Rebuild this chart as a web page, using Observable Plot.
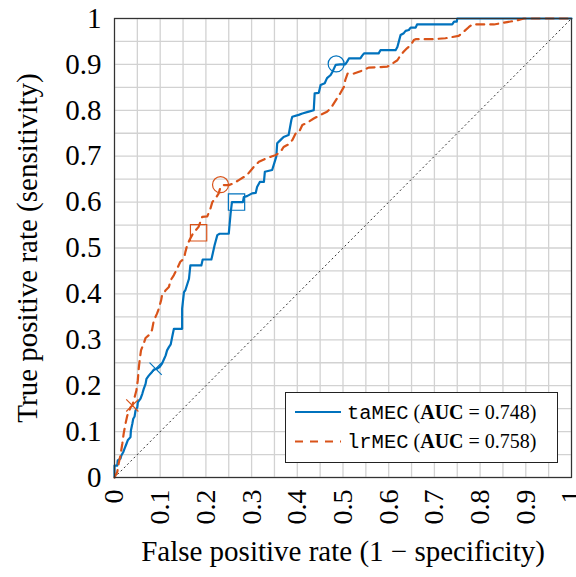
<!DOCTYPE html>
<html>
<head>
<meta charset="utf-8">
<script src="https://cdn.jsdelivr.net/npm/d3@7"></script>
<script src="https://cdn.jsdelivr.net/npm/@observablehq/plot@0.6"></script>
<style>
  html, body { margin: 0; padding: 0; background: #fff; }
</style>
</head>
<body>
<div id="chart"></div>
<script>
// ---- data ----
const tickValues = [0, 0.1, 0.2, 0.3, 0.4, 0.5, 0.6, 0.7, 0.8, 0.9, 1];
const gridValues = [0, 0.05, 0.1, 0.15, 0.2, 0.25, 0.3, 0.35, 0.4, 0.45, 0.5, 0.55, 0.6, 0.65, 0.7, 0.75, 0.8, 0.85, 0.9, 0.95, 1];

const taFpr = [0,0,0.006,0.007,0.013,0.015,0.019,0.022,0.026,0.029,0.035,0.036,0.039,0.041,0.044,0.046,0.050,0.051,0.057,0.061,0.064,0.068,0.070,0.075,0.082,0.086,0.093,0.099,0.104,0.108,0.112,0.115,0.119,0.123,0.126,0.128,0.130,0.148,0.148,0.152,0.155,0.163,0.166,0.190,0.193,0.212,0.215,0.219,0.225,0.230,0.250,0.254,0.257,0.281,0.283,0.290,0.301,0.309,0.312,0.318,0.327,0.329,0.345,0.354,0.356,0.363,0.370,0.381,0.387,0.389,0.403,0.411,0.425,0.436,0.438,0.447,0.451,0.460,0.465,0.473,0.477,0.484,0.494,0.505,0.509,0.513,0.538,0.542,0.546,0.578,0.582,0.615,0.619,0.622,0.626,0.633,0.637,0.644,0.648,0.659,0.662,0.739,0.743,0.749,0.750,1];
const taTpr = [0,0.026,0.026,0.037,0.041,0.048,0.055,0.063,0.073,0.081,0.088,0.103,0.117,0.128,0.133,0.146,0.153,0.164,0.172,0.183,0.193,0.204,0.215,0.222,0.230,0.235,0.237,0.241,0.248,0.257,0.266,0.277,0.284,0.290,0.305,0.315,0.324,0.324,0.368,0.404,0.408,0.433,0.462,0.462,0.475,0.475,0.488,0.506,0.528,0.531,0.531,0.575,0.600,0.600,0.611,0.613,0.619,0.620,0.633,0.644,0.644,0.666,0.670,0.699,0.728,0.735,0.742,0.746,0.779,0.786,0.790,0.793,0.797,0.800,0.837,0.838,0.855,0.859,0.870,0.877,0.884,0.899,0.900,0.900,0.906,0.913,0.913,0.919,0.924,0.924,0.931,0.931,0.938,0.949,0.964,0.968,0.973,0.975,0.980,0.980,0.987,0.987,0.993,0.993,1,1];

const lrFpr = [0,0.006,0.009,0.013,0.017,0.020,0.024,0.028,0.035,0.039,0.044,0.048,0.051,0.053,0.055,0.058,0.064,0.068,0.075,0.082,0.086,0.093,0.097,0.102,0.104,0.112,0.119,0.123,0.130,0.137,0.144,0.152,0.155,0.159,0.165,0.172,0.184,0.188,0.192,0.203,0.210,0.214,0.221,0.228,0.232,0.239,0.250,0.261,0.272,0.290,0.305,0.316,0.327,0.345,0.352,0.363,0.370,0.381,0.389,0.396,0.403,0.411,0.418,0.436,0.451,0.465,0.473,0.480,0.487,0.494,0.502,0.505,0.510,0.524,0.546,0.556,0.597,0.608,0.619,0.626,0.633,0.640,0.648,0.655,0.659,0.699,0.724,0.753,0.764,0.775,0.783,0.830,0.859,0.881,0.896,1];
const lrTpr = [0,0.012,0.030,0.048,0.073,0.095,0.117,0.135,0.153,0.157,0.175,0.190,0.212,0.237,0.255,0.277,0.292,0.304,0.310,0.321,0.342,0.357,0.368,0.386,0.397,0.408,0.415,0.430,0.441,0.455,0.470,0.477,0.491,0.506,0.519,0.532,0.546,0.557,0.568,0.569,0.586,0.600,0.608,0.619,0.633,0.637,0.637,0.641,0.648,0.659,0.677,0.688,0.693,0.700,0.702,0.709,0.720,0.726,0.735,0.749,0.751,0.768,0.771,0.782,0.790,0.797,0.804,0.815,0.826,0.837,0.851,0.866,0.880,0.880,0.888,0.893,0.895,0.902,0.909,0.920,0.928,0.935,0.942,0.953,0.955,0.955,0.957,0.962,0.971,0.981,0.987,0.987,0.992,0.996,1,1];

const chanceX = [0, 1];
const chanceY = [0, 1];

// operating-point markers
const markerModel  = ["taMEC", "taMEC", "taMEC", "lrMEC", "lrMEC", "lrMEC"];
const markerSymbol = ["circle", "square", "times", "circle", "square", "times"];
const markerFpr    = [0.485, 0.267, 0.090, 0.232, 0.184, 0.039];
const markerTpr    = [0.901, 0.600, 0.237, 0.638, 0.533, 0.157];

const seriesNames = ["taMEC", "lrMEC"];
const seriesAUC = ["0.748", "0.758"];
const seriesColors = ["#0072BD", "#D95319"];

const xLabel = "False positive rate (1 \u2212 specificity)";
const yLabel = "True positive rate (sensitivity)";

// ---- build tables ----
const ta = taFpr.map((x, i) => ({x, y: taTpr[i]}));
const lr = lrFpr.map((x, i) => ({x, y: lrTpr[i]}));
const chance = chanceX.map((x, i) => ({x, y: chanceY[i]}));
const markers = markerFpr.map((x, i) => ({x, y: markerTpr[i], model: markerModel[i], symbol: markerSymbol[i]}));
const colorOf = m => seriesColors[seriesNames.indexOf(m)];
const symR = {circle: 8, square: 9.2, times: 5.6};

const serif = "'Liberation Serif', 'Times New Roman', serif";
const mono = "'Liberation Mono', 'DejaVu Sans Mono', monospace";

const chart = Plot.plot({
  width: 576,
  height: 577,
  marginLeft: 114,
  marginRight: 5,
  marginTop: 18,
  marginBottom: 100,
  style: {fontFamily: serif, background: "#fff", color: "#000", overflow: "visible"},
  x: {domain: [0, 1]},
  y: {domain: [0, 1]},
  r: {type: "identity"},
  marks: [
    Plot.gridX(gridValues, {stroke: "#d2d2d2", strokeOpacity: 1, strokeWidth: 1.3}),
    Plot.gridY(gridValues, {stroke: "#d2d2d2", strokeOpacity: 1, strokeWidth: 1.3}),
    Plot.line(chance, {x: "x", y: "y", stroke: "#333", strokeWidth: 1, strokeDasharray: "1.2,3.4"}),
    Plot.line(ta, {x: "x", y: "y", stroke: seriesColors[0], strokeWidth: 2.2}),
    Plot.line(lr, {x: "x", y: "y", stroke: seriesColors[1], strokeWidth: 2.2, strokeDasharray: "8,6"}),
    Plot.dot(markers, {x: "x", y: "y", symbol: d => d.symbol, r: d => symR[d.symbol], stroke: d => colorOf(d.model), strokeWidth: 1.2, fill: "none"}),
    Plot.axisX(tickValues, {tickSize: 0, tickPadding: 12, tickRotate: -90, tickFormat: d => String(d), fontSize: 28, fontFamily: serif, fill: "#000", label: null}),
    Plot.axisY(tickValues, {tickSize: 0, tickPadding: 13, tickFormat: d => String(d), fontSize: 29, fontFamily: serif, fill: "#000", label: null}),
    Plot.text([xLabel], {frameAnchor: "bottom", dy: 83, fontSize: 29, fontFamily: serif, textAnchor: "middle", text: d => d, fill: "#000"}),
    Plot.text([yLabel], {frameAnchor: "left", dx: -87, rotate: -90, fontSize: 29, fontFamily: serif, textAnchor: "middle", text: d => d, fill: "#000"}),
    Plot.frame({stroke: "#333", strokeWidth: 1.2})
  ]
});

document.getElementById("chart").appendChild(chart);

// make sure every Plot text uses the serif face
const svg = d3.select(chart);
svg.style("font-family", serif);
svg.selectAll("g[aria-label$='axis tick label'], g[aria-label$='axis tick label'] text, g[aria-label='text'] text")
  .attr("font-family", serif).style("font-family", serif);

// ---- legend (inside the plot, lower right) ----
const lg = svg.append("g").attr("class", "legend");
lg.append("rect")
  .attr("x", 285.5).attr("y", 392.5).attr("width", 272).attr("height", 70)
  .attr("fill", "#fff").attr("stroke", "#222").attr("stroke-width", 1);
seriesNames.forEach((name, i) => {
  const cy = 412 + i * 29.5;
  lg.append("line")
    .attr("x1", 295).attr("x2", 341).attr("y1", cy).attr("y2", cy)
    .attr("stroke", seriesColors[i]).attr("stroke-width", 2)
    .attr("stroke-dasharray", i === 1 ? "8,7" : null);
  const t = lg.append("text")
    .attr("x", 347).attr("y", cy + 6.5)
    .attr("text-anchor", "start")
    .style("font-family", serif)
    .attr("font-size", 20).attr("fill", "#000");
  t.append("tspan").style("font-family", mono).attr("font-size", 20.5).text(name);
  t.append("tspan").text(" (");
  t.append("tspan").attr("font-weight", "bold").text("AUC");
  t.append("tspan").text(" = " + seriesAUC[i] + ")");
});
</script>
</body>
</html>
